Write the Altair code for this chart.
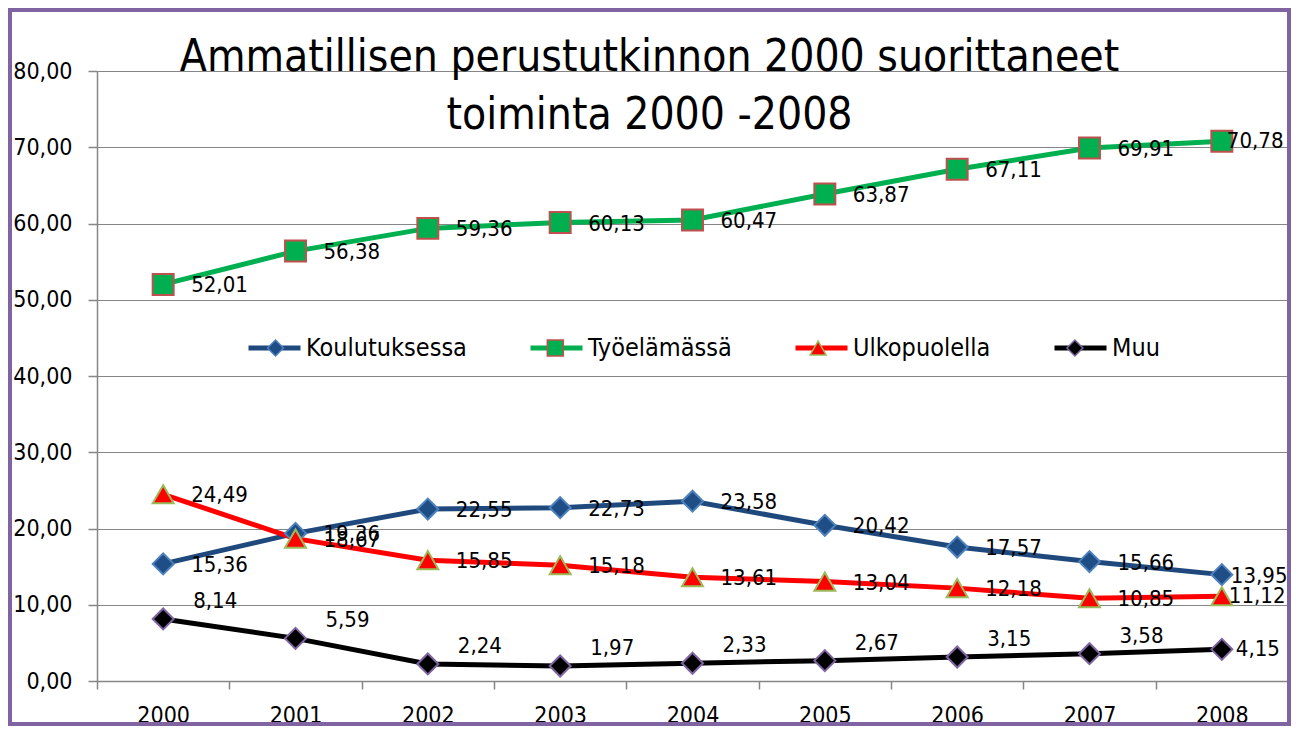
import math
import altair as alt
import pandas as pd

# ---- data ----
years = [2000, 2001, 2002, 2003, 2004, 2005, 2006, 2007, 2008]
series_names = ["Koulutuksessa", "Työelämässä", "Ulkopuolella", "Muu"]
koulutuksessa = [15.36, 19.36, 22.55, 22.73, 23.58, 20.42, 17.57, 15.66, 13.95]
tyoelamassa = [52.01, 56.38, 59.36, 60.13, 60.47, 63.87, 67.11, 69.91, 70.78]
ulkopuolella = [24.49, 18.67, 15.85, 15.18, 13.61, 13.04, 12.18, 10.85, 11.12]
muu = [8.14, 5.59, 2.24, 1.97, 2.33, 2.67, 3.15, 3.58, 4.15]
y_ticks = [0, 10, 20, 30, 40, 50, 60, 70, 80]
title_lines = ["Ammatillisen perustutkinnon 2000 suorittaneet", "toiminta 2000 -2008"]

# ---- styles ----
line_colors = ["#1F497D", "#00B050", "#FF0000", "#000000"]
fill_colors = ["#1F4E86", "#00B050", "#FF0000", "#000000"]
outline_colors = ["#4F81BD", "#C0504D", "#9BBB59", "#8064A2"]
shapes = ["diamond", "square", "triangle-up", "diamond"]
FONT = "'DejaVu Sans Condensed', 'Liberation Sans Narrow', sans-serif"
GRID = "#868686"

values_by_series = [koulutuksessa, tyoelamassa, ulkopuolella, muu]
rows = []
for name, vals in zip(series_names, values_by_series):
    for yr, v in zip(years, vals):
        rows.append({"series": name, "year": yr, "value": v})
df = pd.DataFrame(rows)

W, H = 1191, 610
PAD = {"left": 89, "top": 63, "right": 3, "bottom": 45}

x_enc = alt.X(
    "year:O",
    scale=alt.Scale(type="band", paddingInner=0, paddingOuter=0),
    axis=alt.Axis(
        title=None, labelAngle=0, tickBand="extent", tickSize=8, labelPadding=15,
        labelFont=FONT, labelFontSize=23, labelColor="black",
        domainColor=GRID, tickColor=GRID, domainWidth=1.5, tickWidth=1.5, grid=False,
    ),
)
y_enc = alt.Y(
    "value:Q",
    scale=alt.Scale(domain=[0, 80], nice=False),
    axis=alt.Axis(
        title=None, values=y_ticks,
        labelExpr="replace(format(datum.value, '.2f'), '.', ',')",
        tickSize=9, labelPadding=16, labelFont=FONT, labelFontSize=23, labelColor="black",
        domainColor=GRID, tickColor=GRID, gridColor=GRID, domainWidth=1.5, tickWidth=1.5, gridWidth=1.2,
    ),
)

LEG_X = 149
LEG_CENTER = 277
SYM_W = 52          # legend line length
LINE_SW = 5
PT_W = 16           # legend marker width
PT_SW = 1.5
LEG_FS = 25
COLPAD = 53
PT_COLPAD = COLPAD - 11.2   # compensates the narrower marker slot of the marker legend

line_slot = max(math.ceil(SYM_W + LINE_SW), LEG_FS)
pt_slot = max(math.ceil(PT_W + PT_SW), LEG_FS)

line_legend = alt.Legend(
    title=None, orient="none", legendX=LEG_X, legendY=LEG_CENTER - line_slot / 2,
    direction="horizontal", gridAlign="none", columnPadding=COLPAD,
    symbolType="stroke", symbolSize=SYM_W * SYM_W, symbolStrokeWidth=LINE_SW,
    labelFont=FONT, labelFontSize=LEG_FS, labelColor="black",
    labelOffset=3, labelLimit=400, padding=0, zindex=1,
)
point_legend = alt.Legend(
    title=None, orient="none", legendX=LEG_X, legendY=LEG_CENTER - pt_slot / 2,
    direction="horizontal", gridAlign="none", columnPadding=PT_COLPAD,
    symbolSize=PT_W * PT_W, symbolStrokeWidth=PT_SW,
    symbolOffset=(line_slot - pt_slot) / 2 + 1, labelOffset=3 + line_slot - pt_slot, labelLimit=400,
    labelFont=FONT, labelFontSize=LEG_FS, labelOpacity=0, padding=0, zindex=2,
)

base = alt.Chart(df)

lines = base.mark_line(strokeWidth=5).encode(
    x=x_enc, y=y_enc,
    color=alt.Color("series:N", scale=alt.Scale(domain=series_names, range=line_colors), legend=line_legend),
)

points = base.mark_point(filled=True, size=440, strokeWidth=2, opacity=1).encode(
    x=x_enc, y=y_enc,
    fill=alt.Fill("series:N", scale=alt.Scale(domain=series_names, range=fill_colors), legend=point_legend),
    stroke=alt.Stroke("series:N", scale=alt.Scale(domain=series_names, range=outline_colors), legend=point_legend),
    shape=alt.Shape("series:N", scale=alt.Scale(domain=series_names, range=shapes), legend=point_legend),
)

label_calc = "replace(format(datum.value, '.2f'), '.', ',')"


def labels(filter_expr, dx, dy):
    return base.transform_filter(filter_expr).transform_calculate(lbl=label_calc).mark_text(
        align="left", baseline="middle", dx=dx, dy=dy, font=FONT, fontSize=22, color="black"
    ).encode(x=x_enc, y=y_enc, text="lbl:N")


lab_main = labels("datum.series != 'Muu' && datum.year < 2008", 28, 1)
lab_k_last = labels("datum.series == 'Koulutuksessa' && datum.year == 2008", 9, 1)
lab_t_last = labels("datum.series == 'Työelämässä' && datum.year == 2008", 5, 0)
lab_u_last = labels("datum.series == 'Ulkopuolella' && datum.year == 2008", 7, 0)
lab_muu = labels("datum.series == 'Muu' && datum.year < 2008", 30, -18)
lab_muu_last = labels("datum.series == 'Muu' && datum.year == 2008", 14, 0)

frame = alt.Chart(pd.DataFrame({"f": [0]})).mark_rect(
    fill="transparent", stroke="#8064A2", strokeWidth=4
).encode(
    x=alt.value(-PAD["left"] + 2), x2=alt.value(W + PAD["right"] - 2),
    y=alt.value(-PAD["top"] + 2), y2=alt.value(H + PAD["bottom"] - 2),
)

chart = alt.layer(
    lines, points, lab_main, lab_k_last, lab_t_last, lab_u_last, lab_muu, lab_muu_last, frame
).resolve_scale(
    color="independent"
).properties(
    width=W, height=H,
    autosize=alt.AutoSizeParams(type="none"),
    padding=PAD,
    title=alt.TitleParams(
        text=title_lines, font=FONT, fontSize=44, fontWeight="normal", color="black",
        anchor="middle", frame="group", dx=-43, dy=130, offset=0, baseline="top",
        lineHeight=58, orient="top",
    ),
).configure_view(stroke=None).configure(background="white")

chart.save("out.html", embed_options={"renderer": "svg", "actions": False})
